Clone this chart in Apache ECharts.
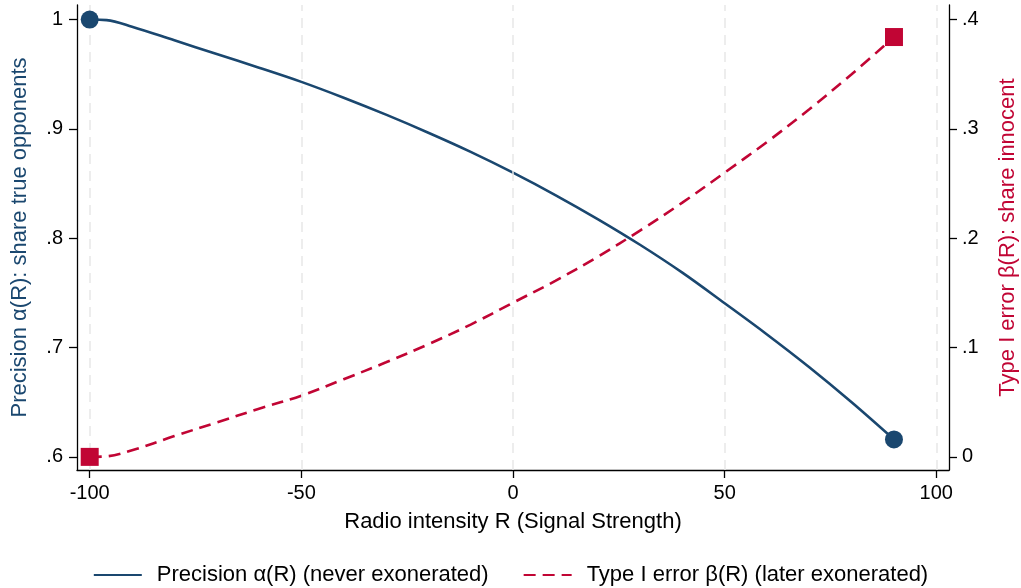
<!DOCTYPE html>
<html>
<head>
<meta charset="utf-8">
<script src="https://cdn.jsdelivr.net/npm/echarts@6/dist/echarts.min.js"></script>
<style>
html,body{margin:0;padding:0;background:#fff;}
#chart{width:1021px;height:588px;}
</style>
</head>
<body>
<div id="chart"></div>
<script>
// ---- data ----
const radio = [-100, -96, -90, -80, -70, -60, -50, -40, -30, -20, -10, 0, 10, 20, 30, 40, 50, 60, 70, 80, 90];
const precision = [1.000, 0.9995, 0.9935, 0.9810, 0.9685, 0.9560, 0.9430, 0.9285, 0.9130, 0.8965, 0.8790, 0.8600, 0.8395, 0.8175, 0.7940, 0.7685, 0.7405, 0.7120, 0.6820, 0.6500, 0.6160];
const typeOneError = [0.000, 0.0005, 0.0060, 0.0190, 0.0315, 0.0440, 0.0560, 0.0710, 0.0865, 0.1030, 0.1210, 0.1410, 0.1610, 0.1830, 0.2070, 0.2325, 0.2600, 0.2880, 0.3180, 0.3500, 0.3840];

const xTicks = [-100, -50, 0, 50, 100];
const xTickLabels = ['-100', '-50', '0', '50', '100'];
const leftTicks = [0.6, 0.7, 0.8, 0.9, 1.0];
const leftTickLabels = ['.6', '.7', '.8', '.9', '1'];
const rightTicks = [0, 0.1, 0.2, 0.3, 0.4];
const rightTickLabels = ['0', '.1', '.2', '.3', '.4'];

const seriesNames = ['Precision α(R) (never exonerated)', 'Type I error β(R) (later exonerated)'];
const xTitle = 'Radio intensity R (Signal Strength)';
const leftTitle = 'Precision α(R): share true opponents';
const rightTitle = 'Type I error β(R): share innocent';

// ---- styles ----
const BLUE = '#1a476f';
const RED = '#c10534';
const FONT = '"Liberation Sans", Arial, Helvetica, sans-serif';

function labelFor(ticks, labels) {
  return function (v) {
    for (let i = 0; i < ticks.length; i++) {
      if (Math.abs(ticks[i] - v) < 1e-6) return labels[i];
    }
    return '';
  };
}

const pairs = (xs, ys) => xs.map((x, i) => [x, ys[i]]);
const ends = (xs, ys) => [[xs[0], ys[0]], [xs[xs.length - 1], ys[ys.length - 1]]];

const chart = echarts.init(document.getElementById('chart'), null, { renderer: 'canvas' });

const axisLineStyle = { show: true, onZero: false, lineStyle: { color: '#000', width: 1.3 } };
const axisTickStyle = { show: true, length: 8, lineStyle: { color: '#000', width: 1.3 } };

chart.setOption({
  animation: false,
  backgroundColor: '#fff',
  textStyle: { fontFamily: FONT },
  grid: { left: 77, right: 72, top: 5, bottom: 118, containLabel: false, outerBoundsMode: 'none' },
  legend: {
    data: seriesNames,
    left: 'center',
    top: 559,
    itemWidth: 48,
    itemHeight: 14,
    itemGap: 34,
    itemStyle: { opacity: 0 },
    textStyle: { fontSize: 22, color: '#000', fontFamily: FONT, padding: [0, 0, 0, 10] }
  },
  xAxis: {
    type: 'value',
    min: -103,
    max: 103,
    name: xTitle,
    nameLocation: 'middle',
    nameGap: 41,
    nameTextStyle: { fontSize: 22, color: '#000', fontFamily: FONT },
    axisLine: axisLineStyle,
    axisTick: Object.assign({ customValues: xTicks }, axisTickStyle),
    axisLabel: { customValues: xTicks, formatter: labelFor(xTicks, xTickLabels), margin: 13, fontSize: 20, color: '#000', fontFamily: FONT },
    splitLine: { show: false }
  },
  yAxis: [
    {
      type: 'value',
      position: 'left',
      min: 0.588,
      max: 1.0133,
      name: leftTitle,
      nameLocation: 'middle',
      nameRotate: 90,
      nameGap: 46,
      nameTextStyle: { fontSize: 22, color: BLUE, fontFamily: FONT },
      axisLine: axisLineStyle,
      axisTick: Object.assign({ customValues: leftTicks }, axisTickStyle),
      axisLabel: { customValues: leftTicks, formatter: labelFor(leftTicks, leftTickLabels), margin: 14, fontSize: 20, color: '#000', fontFamily: FONT },
      splitLine: { show: false }
    },
    {
      type: 'value',
      position: 'right',
      min: -0.012,
      max: 0.4133,
      name: rightTitle,
      nameLocation: 'middle',
      nameRotate: 90,
      nameGap: 48,
      nameTextStyle: { fontSize: 22, color: RED, fontFamily: FONT },
      axisLine: axisLineStyle,
      axisTick: Object.assign({ customValues: rightTicks }, axisTickStyle),
      axisLabel: { customValues: rightTicks, formatter: labelFor(rightTicks, rightTickLabels), margin: 13, fontSize: 20, color: '#000', fontFamily: FONT },
      splitLine: { show: false }
    }
  ],
  series: [
    {
      name: 'gridlines',
      type: 'line',
      xAxisIndex: 0,
      yAxisIndex: 0,
      data: [],
      z: 1,
      silent: true,
      markLine: {
        silent: true,
        symbol: ['none', 'none'],
        label: { show: false },
        lineStyle: { color: '#e8e8e8', type: [10, 7], width: 1.5 },
        data: xTicks.map(v => ({ xAxis: v }))
      }
    },
    {
      name: seriesNames[0],
      type: 'line',
      xAxisIndex: 0,
      yAxisIndex: 0,
      data: pairs(radio, precision),
      smooth: 0.35,
      symbol: 'none',
      z: 3,
      lineStyle: { color: BLUE, width: 2.6 },
      itemStyle: { color: BLUE }
    },
    {
      name: seriesNames[1],
      type: 'line',
      xAxisIndex: 0,
      yAxisIndex: 1,
      data: pairs(radio, typeOneError),
      smooth: 0.35,
      symbol: 'none',
      z: 4,
      lineStyle: { color: RED, width: 2.6, type: [12, 7] },
      itemStyle: { color: RED }
    },
    {
      name: 'precisionEnds',
      type: 'scatter',
      xAxisIndex: 0,
      yAxisIndex: 0,
      data: ends(radio, precision),
      symbol: 'circle',
      symbolSize: 18,
      z: 5,
      itemStyle: { color: BLUE, opacity: 1 }
    },
    {
      name: 'errorEnds',
      type: 'scatter',
      xAxisIndex: 0,
      yAxisIndex: 1,
      data: ends(radio, typeOneError),
      symbol: 'rect',
      symbolSize: 18,
      z: 5,
      itemStyle: { color: RED, opacity: 1 }
    }
  ]
});
</script>
</body>
</html>
